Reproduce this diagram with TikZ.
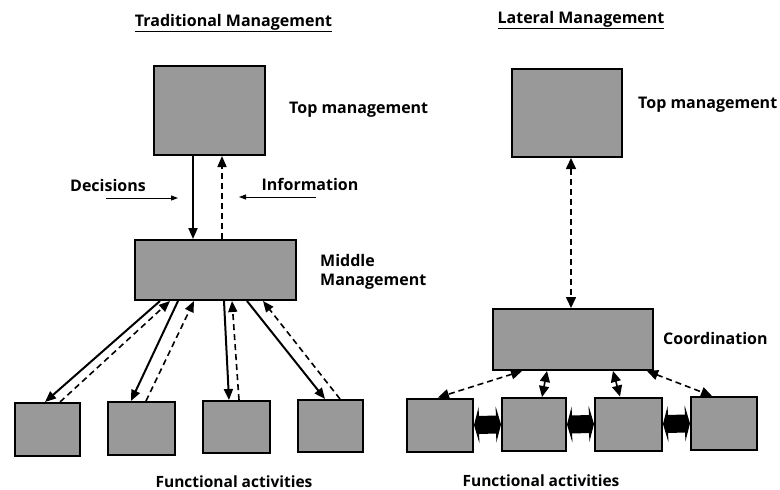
\documentclass[tikz,border=0pt]{standalone}
\usepackage{fontspec}
\setmainfont{Open Sans}
\usetikzlibrary{arrows.meta,calc}
\begin{document}
\begin{tikzpicture}[x=1pt,y=-1pt,
  box/.style={draw=black,line width=2pt,fill=black!40,inner sep=0pt},
  lbl/.style={font=\bfseries\fontsize{16}{19}\selectfont,inner sep=0pt,align=left},
  fal/.style={font=\bfseries\fontsize{15.5}{18}\selectfont,inner sep=0pt},
  ttl/.style={font=\bfseries\fontsize{16}{19}\selectfont,inner sep=0pt},
  solidarr/.style={line width=2pt,-{Triangle[length=11pt,width=9pt]}},
  dasharr/.style={line width=1.6pt,dash pattern=on 6pt off 4pt,-{Triangle[length=11pt,width=9pt]}},
  ddarr/.style={line width=1.6pt,dash pattern=on 6pt off 4pt,{Triangle[length=11pt,width=10pt]}-{Triangle[length=11pt,width=10pt]}},
  thinarr/.style={line width=1pt,-{Triangle[length=7pt,width=5pt]}},
  bar/.style={line width=18pt,{Triangle[length=5pt,width=36pt]}-{Triangle[length=5pt,width=36pt]}}
]
\useasboundingbox (0,0) rectangle (780,490);
% ---------- Traditional ----------
\node[ttl] (t1) at (233.5,23) {\underline{Traditional Management}};
\node[box,minimum width=111pt,minimum height=89pt] (ltop) at (209.5,110.5) {};
\node[lbl,anchor=west] (ltopl) at (289,110) {Top management};
\node[box,minimum width=161pt,minimum height=60pt] (lmid) at (215.5,270) {};
\node[lbl,anchor=west] (lmidl) at (320,272) {Middle\\Management};
\node[box,minimum width=65pt,minimum height=53pt] (lf1) at (47.5,429.5) {};
\node[box,minimum width=67pt,minimum height=53pt] (lf2) at (141.5,428.5) {};
\node[box,minimum width=67pt,minimum height=52pt] (lf3) at (236.5,427) {};
\node[box,minimum width=65pt,minimum height=52pt] (lf4) at (330.5,426) {};
\node[fal] (lfa) at (234,482) {Functional activities};
\node[lbl] (dec) at (108,185) {Decisions};
\node[lbl] (inf) at (310,184) {Information};
\coordinate (d1) at (106,198);
\coordinate (d2) at (178,198);
\coordinate (i1) at (316,197);
\coordinate (i2) at (239,197);
\draw[thinarr] (d1) -- (d2);
\draw[thinarr] (i1) -- (i2);
\draw[solidarr] ([xshift=-16.5]ltop.south) -- ([xshift=-22.5]lmid.north);
\draw[dasharr] ([xshift=6.5]lmid.north) -- ([xshift=12.5]ltop.south);
\draw[solidarr] ([xshift=-55.5]lmid.south) -- ([xshift=-2.5]lf1.north);
\draw[dasharr] ([xshift=12.5]lf1.north) -- ([xshift=-45.5]lmid.south);
\draw[solidarr] ([xshift=-37.5]lmid.south) -- ([xshift=-10.5]lf2.north);
\draw[dasharr] ([xshift=4.5]lf2.north) -- ([xshift=-21.5]lmid.south);
\draw[solidarr] ([xshift=8.5]lmid.south) -- ([xshift=-7.5]lf3.north);
\draw[dasharr] ([xshift=2.5]lf3.north) -- ([xshift=16.5]lmid.south);
\draw[solidarr] ([xshift=31.5]lmid.south) -- ([xshift=-5.5]lf4.north);
\draw[dasharr] ([xshift=9.5]lf4.north) -- ([xshift=47.5]lmid.south);
% ---------- Lateral ----------
\node[ttl] (t2) at (581,20) {\underline{Lateral Management}};
\node[box,minimum width=110pt,minimum height=88pt] (rtop) at (567,113) {};
\node[lbl,anchor=west] (rtopl) at (638,105) {Top management};
\node[box,minimum width=160pt,minimum height=61pt] (rco) at (573,339.5) {};
\node[lbl,anchor=west] (rcol) at (663,338) {Coordination};
\node[box,minimum width=66pt,minimum height=53pt] (rf1) at (440,425) {};
\node[box,minimum width=64pt,minimum height=53pt] (rf2) at (534,424.5) {};
\node[box,minimum width=67pt,minimum height=53pt] (rf3) at (628.5,424) {};
\node[box,minimum width=66pt,minimum height=53pt] (rf4) at (724,423.5) {};
\node[fal] (rfa) at (541,481) {Functional activities};
\draw[ddarr] ([xshift=4]rtop.south) -- ([xshift=-2]rco.north);
\draw[ddarr] ([xshift=-51]rco.south) -- ([xshift=-2]rf1.north);
\draw[ddarr] ([xshift=-26]rco.south) -- ([xshift=8]rf2.north);
\draw[ddarr] ([xshift=40]rco.south) -- ([xshift=-8.5]rf3.north);
\draw[ddarr] ([xshift=74]rco.south) -- ([xshift=-12]rf4.north);
\draw[bar] (rf1.east) -- (rf2.west);
\draw[bar] (rf2.east) -- (rf3.west);
\draw[bar] (rf3.east) -- (rf4.west);
\end{tikzpicture}
\end{document}
